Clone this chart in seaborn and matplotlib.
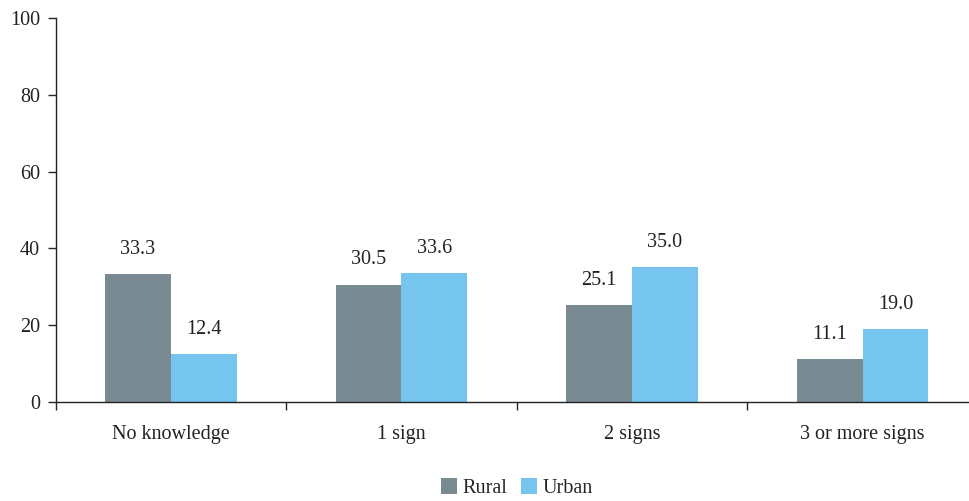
import pandas as pd
import seaborn as sns
import matplotlib.pyplot as plt

# Данные
categories = ['No knowledge', '1 sign', '2 signs', '3 or more signs']
rural = [33.3, 30.5, 25.1, 11.1]
urban = [12.4, 33.6, 35.0, 19.0]
groups = ['Rural', 'Urban']
colors = ['#7A8A92', '#75C5EF']

df = pd.DataFrame({
    'category': categories * 2,
    'group': [groups[0]] * 4 + [groups[1]] * 4,
    'value': rural + urban,
})

sns.set_style('white')
plt.rcParams['font.family'] = ['Liberation Serif', 'DejaVu Serif']
fs = 14.5

fig = plt.figure(figsize=(9.69, 5.01), dpi=100)
ax = fig.add_axes([0.0573, 0.198, 0.952, 0.766])

sns.barplot(data=df, x='category', y='value', hue='group', order=categories,
            hue_order=groups, palette=colors, width=0.57, saturation=1,
            errorbar=None, linewidth=0, ax=ax)

for c in ax.containers:
    ax.bar_label(c, fmt='%.1f', padding=11, fontsize=fs, color='#222222')

ax.set_ylim(0, 100)
ax.set_yticks(range(0, 101, 20))
ax.set_xlim(-0.5, 3.5)
ax.set_xlabel('')
ax.set_ylabel('')
ax.set_xticks([-0.5, 0.5, 1.5, 2.5, 3.5], minor=True)
ax.tick_params(axis='x', which='major', length=0, pad=17, labelsize=fs, labelcolor='#222222')
ax.tick_params(axis='x', which='minor', length=6, width=1, direction='out', bottom=True)
ax.tick_params(axis='y', length=6, width=1, direction='out', left=True, pad=5,
               labelsize=fs, labelcolor='#222222')
for s in ['top', 'right']:
    ax.spines[s].set_visible(False)
for s in ['left', 'bottom']:
    ax.spines[s].set_color('#222222')
    ax.spines[s].set_linewidth(1)

ax.legend(loc='lower center', bbox_to_anchor=(0.5, -0.272), ncol=2, frameon=False,
          fontsize=fs, handlelength=0.8, handleheight=0.8, handletextpad=0.25,
          columnspacing=0.7, borderaxespad=0)

fig.savefig('out.png', dpi=100)
